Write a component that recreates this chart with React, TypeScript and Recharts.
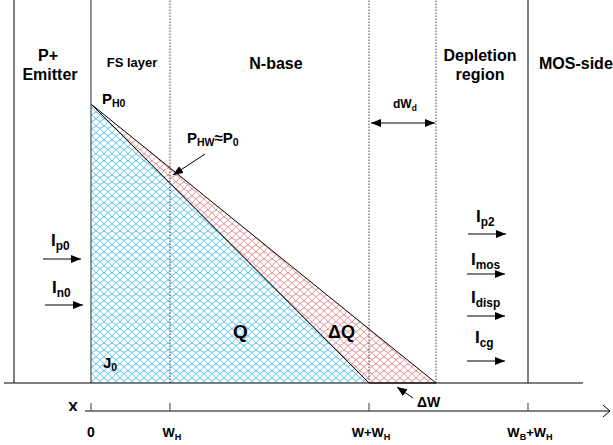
import React from 'react';
import { ComposedChart, Area, XAxis, YAxis, ReferenceLine, Scatter } from 'recharts';

// Carrier profile (x in arbitrary units, y = hole concentration)
const profileX = [0, 2.78, 3.45];
const storedCharge = [2.79, 0, null];
const extraLow = [2.79, 0, 0];
const extraHigh = [2.79, 0.54, 0];

// Axis ticks
const tickValues = [0, 0.79, 2.78, 4.37];
const tickLabels = ['0', 'W_{H}', 'W+W_{H}', 'W_{B}+W_{H}'];

// Region boundaries
const boundaryX = [-0.77, 0, 0.79, 2.78, 3.45, 4.37];
const boundaryKind = ['solid', 'gray', 'dot', 'dot', 'dot', 'solid'];

// Arrows: [x1, y1, x2, y2, double]
const arrows = [
  [-0.48, 1.24, -0.1, 1.24, 0],
  [-0.46, 0.78, -0.08, 0.78, 0],
  [3.77, 1.49, 4.15, 1.49, 0],
  [3.76, 1.09, 4.14, 1.09, 0],
  [3.76, 0.67, 4.14, 0.67, 0],
  [3.76, 0.22, 4.14, 0.22, 0],
  [1.14, 2.29, 0.82, 2.08, 0],
  [3.22, -0.15, 3.06, -0.04, 0],
  [2.8, 2.6, 3.44, 2.6, 1],
];

// Text labels
const labelText = ['P+', 'Emitter', 'FS layer', 'N-base', 'Depletion', 'region', 'MOS-side',
  'P_{H0}', 'P_{HW}≈P_{0}', 'dW_{d}', 'I_{p0}', 'I_{n0}', 'I_{p2}', 'I_{mos}', 'I_{disp}', 'I_{cg}',
  'J_{0}', 'Q', 'ΔQ', 'ΔW', 'X'];
const labelX = [-0.43, -0.41, 0.41, 1.85, 3.89, 3.89, 4.48,
  0.11, 0.96, 3.02, -0.4, -0.39, 3.85, 3.8, 3.8, 3.84,
  0.12, 1.42, 2.37, 3.26, -0.23];
const labelY = [3.22, 3.03, 3.16, 3.14, 3.22, 3.03, 3.14,
  2.79, 2.4, 2.75, 1.37, 0.9, 1.61, 1.18, 0.8, 0.4,
  0.15, 0.45, 0.45, -0.24, -0.29];
const labelStyle = ['a16m', 'a16m', 'a13m', 'a16m', 'a16m', 'a16m', 'a16s',
  'a15s', 'a15s', 'a12s', 'a17s', 'a17s', 'a17s', 'a17s', 'a17s', 'a17s',
  'a15s', 'a19s', 'a18s', 'a14s', 'a15s'];

const labels = labelText.map((t, i) => ({ x: labelX[i], y: labelY[i], t, s: labelStyle[i] }));
const data = profileX.map((x, i) => ({ x, blue: storedCharge[i], band: [extraLow[i], extraHigh[i]] }));

const ARIAL = '"Liberation Sans", Arial, sans-serif';

function parts(s: string) {
  const out: { t: string; sub: boolean }[] = [];
  const re = /_\{([^}]*)\}|([^_]+)/g;
  let m;
  while ((m = re.exec(s))) {
    if (m[1] !== undefined) out.push({ t: m[1], sub: true });
    else out.push({ t: m[2], sub: false });
  }
  return out;
}

function RichText({ x, y, text, size, anchor }: any) {
  const ps = parts(text);
  const shift = Math.round(size * 0.22);
  let cur = 0;
  return (
    <text x={x} y={y} fontFamily={ARIAL} fontWeight="bold" fontSize={size} fill="#000" textAnchor={anchor}>
      {ps.map((p, i) => {
        const target = p.sub ? shift : 0;
        const dy = target - cur;
        cur = target;
        return (
          <tspan key={i} dy={dy} fontSize={p.sub ? size * 0.7 : size}>{p.t}</tspan>
        );
      })}
    </text>
  );
}

const LabelShape = (props: any) => {
  const { cx, cy, payload } = props;
  const st: string = payload.s;
  const size = parseFloat(st.slice(1, -1));
  const anchor = st[st.length - 1] === 'm' ? 'middle' : 'start';
  return <RichText x={cx} y={cy} text={payload.t} size={size} anchor={anchor} />;
};

const TickShape = (props: any) => {
  const { x, y, payload } = props;
  const idx = tickValues.indexOf(payload.value);
  const lab = idx >= 0 ? tickLabels[idx] : '';
  return (
    <g>
      <line x1={x} x2={x} y1={y - 8} y2={y} stroke="#666" strokeWidth={1.3} />
      <RichText x={x + (idx > 0 ? 2 : 0)} y={y + 26} text={lab} size={idx === 0 ? 14 : 13} anchor="middle" />
    </g>
  );
};

export default function App() {
  return (
    <div style={{ position: 'absolute', left: 0, top: 0, background: '#fff' }}>
      <ComposedChart width={613} height={445} data={data} margin={{ top: 0, right: 0, bottom: 0, left: 0 }}>
        <defs>
          <pattern id="blueHatch" width="8" height="7" patternUnits="userSpaceOnUse">
            <rect width="8" height="7" fill="#fff" />
            <path d="M0,0 Q4,1.5 8,7 M8,0 Q4,1.5 0,7" stroke="#3bb9ef" strokeWidth="0.8" fill="none" />
          </pattern>
          <pattern id="redHatch" width="8" height="7" patternUnits="userSpaceOnUse">
            <rect width="8" height="7" fill="#fff" />
            <path d="M0,0 Q4,1.5 8,7 M8,0 Q4,1.5 0,7" stroke="#e07c7c" strokeWidth="0.8" fill="none" />
          </pattern>
          <marker id="head" viewBox="0 0 10 8" refX="10" refY="4" markerWidth="10" markerHeight="8" markerUnits="userSpaceOnUse" orient="auto-start-reverse">
            <path d="M0,0 L10,4 L0,8 Z" fill="#000" />
          </marker>
          <marker id="open" viewBox="0 0 8 12" refX="7" refY="6" markerWidth="8" markerHeight="12" markerUnits="userSpaceOnUse" orient="auto">
            <path d="M0,0 L7,6 L0,12" fill="none" stroke="#000" strokeWidth="1" />
          </marker>
        </defs>
        <XAxis
          dataKey="x"
          type="number"
          domain={[-0.91, 5.22]}
          allowDataOverflow
          ticks={tickValues}
          interval={0}
          height={34}
          axisLine={false}
          tickLine={false}
          tickSize={0}
          tickMargin={0}
          tick={<TickShape />}
        />
        <YAxis type="number" domain={[-0.28, 3.83]} allowDataOverflow hide />
        <Area
          type="linear"
          dataKey="band"
          stroke="#000"
          strokeWidth={1}
          fill="url(#redHatch)"
          fillOpacity={1}
          isAnimationActive={false}
          dot={false}
          activeDot={false}
        />
        <Area
          type="linear"
          dataKey="blue"
          baseValue={0}
          stroke="#000"
          strokeWidth={1}
          fill="url(#blueHatch)"
          fillOpacity={1}
          isAnimationActive={false}
          dot={false}
          activeDot={false}
        />
        {boundaryX.map((bx, i) => (
          <ReferenceLine
            key={'b' + i}
            segment={[{ x: bx, y: 0 }, { x: bx, y: 3.83 }]}
            stroke={boundaryKind[i] === 'solid' ? '#000' : boundaryKind[i] === 'gray' ? '#666' : '#444'}
            strokeWidth={boundaryKind[i] === 'gray' ? 1.4 : 1}
            strokeDasharray={boundaryKind[i] === 'dot' ? '1.5 1.5' : undefined}
            ifOverflow="visible"
          />
        ))}
        <ReferenceLine segment={[{ x: -0.87, y: 0 }, { x: 4.92, y: 0 }]} stroke="#000" strokeWidth={1} ifOverflow="visible" />
        <ReferenceLine segment={[{ x: -0.06, y: -0.28 }, { x: 5.19, y: -0.28 }]} stroke="#000" strokeWidth={1} ifOverflow="visible" markerEnd="url(#open)" />
        {arrows.map((a, i) => (
          <ReferenceLine
            key={'a' + i}
            segment={[{ x: a[0], y: a[1] }, { x: a[2], y: a[3] }]}
            stroke="#000"
            strokeWidth={1}
            ifOverflow="visible"
            markerEnd="url(#head)"
            markerStart={a[4] ? 'url(#head)' : undefined}
          />
        ))}
        <Scatter data={labels} dataKey="y" isAnimationActive={false} shape={LabelShape} />
      </ComposedChart>
    </div>
  );
}
